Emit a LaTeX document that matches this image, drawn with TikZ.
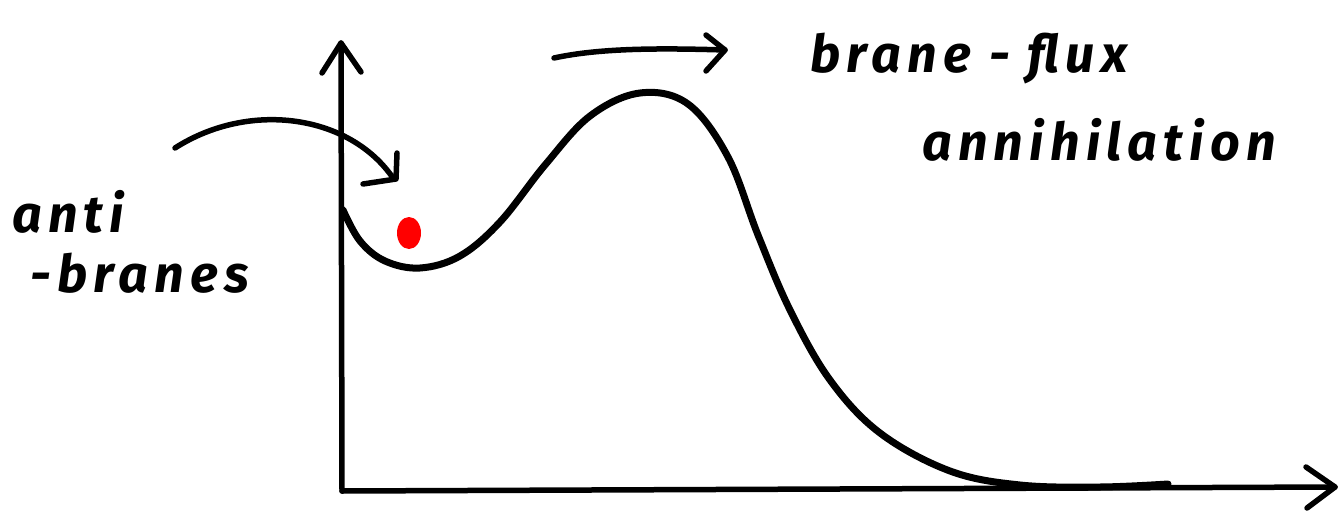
\documentclass[tikz,border=0pt]{standalone}
\usepackage{fontspec}
\setmainfont{Fira Sans}
\newfontfamily\hand[LetterSpace=12]{Fira Sans}
\tikzset{
  ink/.style={line width=5.5pt, line cap=round, line join=round, black},
  lbl/.style={anchor=base west, inner sep=0pt, font=\hand\bfseries\itshape\fontsize{52}{52}\selectfont}
}
\begin{document}
\begin{tikzpicture}[x=1pt,y=-1pt]
\useasboundingbox (0,0) rectangle (1344,514);
% axes
\coordinate (O) at (342,491);
\coordinate (ytop) at (341,43);
\coordinate (xend) at (1335,487);
\draw[ink] (O) -- (ytop);
\draw[ink] (322,73) -- (ytop) -- (361,72);
\draw[ink] (O) -- (xend);
\draw[ink] (1306,467) -- (xend) -- (1307,508);
% potential curve
\draw[line width=7pt, line cap=round, line join=round] plot[smooth, tension=0.6] coordinates {
 (343,210) (360,241) (385,261) (420,268) (460,256) (500,222) (545,165) (590,116) (640,93)
 (688,104) (728,157) (758,235) (790,310) (830,380) (880,433) (950,471) (1020,485) (1100,487) (1168,484)};
% red dot
\fill[red] (409,233) ellipse [x radius=12, y radius=16];
% hooked arrow
\coordinate (a1) at (175,148);
\coordinate (a2) at (393,178);
\draw[ink] (a1) .. controls (250,100) and (350,115) .. (a2);
\draw[ink] (397,153) -- (396,179) -- (363,184);
% top arrow
\coordinate (b1) at (554,58);
\coordinate (b2) at (725,50);
\draw[ink] (b1) .. controls (600,48) and (660,48) .. (b2);
\draw[ink] (706,35) -- (b2) -- (706,71);
% labels
\node[lbl] (t1) at (810,72) {brane - flux};
\node[lbl] (t2) at (922,160) {annihilation};
\node[lbl] (t3) at (12,232) {anti};
\node[lbl] (t4) at (30,292) {-branes};
\end{tikzpicture}
\end{document}
